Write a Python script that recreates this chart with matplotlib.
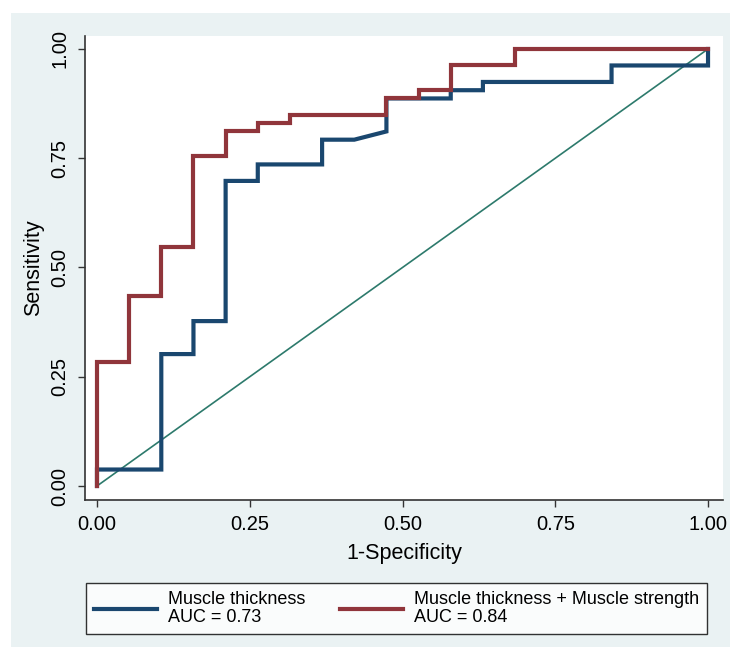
import numpy as np
import matplotlib
matplotlib.use("Agg")
import matplotlib.pyplot as plt
from matplotlib.patches import Rectangle

plt.rcParams["font.family"] = ["Liberation Sans", "DejaVu Sans"]

# ROC points as counts: 19 negatives, 53 positives
n_neg = 19
n_pos = 53

# Muscle thickness (AUC = 0.73)
thick_fp = [0, 0, 2, 2, 3, 3, 4, 4, 5, 5, 7, 7, 8, 9, 9, 11, 11, 12, 12, 16, 16, 19, 19]
thick_tp = [0, 2, 2, 16, 16, 20, 20, 37, 37, 39, 39, 42, 42, 43, 47, 47, 48, 48, 49, 49, 51, 51, 53]

# Muscle thickness + Muscle strength (AUC = 0.84)
combo_fp = [0, 0, 1, 1, 2, 2, 3, 3, 4, 4, 5, 5, 6, 6, 9, 9, 10, 10, 11, 11, 13, 13, 19]
combo_tp = [0, 15, 15, 23, 23, 29, 29, 40, 40, 43, 43, 44, 44, 45, 45, 47, 47, 48, 48, 51, 51, 53, 53]

labels = ["Muscle thickness\nAUC = 0.73",
          "Muscle thickness + Muscle strength\nAUC = 0.84"]
ticks = [0, 0.25, 0.5, 0.75, 1.0]
tick_labels = ["0.00", "0.25", "0.50", "0.75", "1.00"]

blue = "#1A476F"
red = "#90353B"
green = "#2D7A6C"
bg = "#EAF2F3"

W, H = 731, 650
fig = plt.figure(figsize=(W / 100, H / 100), dpi=100)
fig.patch.set_facecolor("white")
fig.patches.append(Rectangle((11 / W, 1 - 647 / H), (730 - 11) / W, (647 - 13) / H,
                             transform=fig.transFigure, facecolor=bg, edgecolor="none", zorder=-10))

ax = fig.add_axes([85 / W, 1 - 500 / H, (723 - 85) / W, (500 - 36) / H])
ax.set_facecolor("white")

ax.plot([0, 1], [0, 1], color=green, lw=1.2, zorder=1)
l1, = ax.plot(np.array(thick_fp) / n_neg, np.array(thick_tp) / n_pos, color=blue, lw=3.0,
              solid_joinstyle="miter", zorder=2)
l2, = ax.plot(np.array(combo_fp) / n_neg, np.array(combo_tp) / n_pos, color=red, lw=3.0,
              solid_joinstyle="miter", zorder=3)

ax.set_xlim(-0.0196, 1.0245)
ax.set_ylim(-0.032, 1.0297)
ax.set_xticks(ticks)
ax.set_xticklabels(tick_labels)
ax.set_yticks(ticks)
ax.set_yticklabels(tick_labels, rotation=90, va="center")

for s in ["top", "right"]:
    ax.spines[s].set_visible(False)
for s in ["left", "bottom"]:
    ax.spines[s].set_color("#333333")
    ax.spines[s].set_linewidth(1.2)
ax.tick_params(length=5, width=1.0, color="#333333", labelsize=14.5, pad=6)

ax.set_xlabel("1-Specificity", fontsize=15.5, labelpad=6)
ax.set_ylabel("Sensitivity", fontsize=15.5, labelpad=5)

leg = fig.legend([l1, l2], labels, loc="center", ncol=2, mode="expand",
                 bbox_to_anchor=(86 / W, 1 - 634 / H, (707 - 86) / W, (634 - 583) / H),
                 borderaxespad=0, fontsize=13, handlelength=3.5, handletextpad=0.6,
                 columnspacing=1.8, fancybox=False, frameon=True, borderpad=0.45,
                 labelspacing=0.2)
leg.get_frame().set_edgecolor("black")
leg.get_frame().set_linewidth(1.0)
for t in leg.get_texts():
    t.set_linespacing(1.0)

fig.savefig("out.png", dpi=100, facecolor=fig.get_facecolor())
